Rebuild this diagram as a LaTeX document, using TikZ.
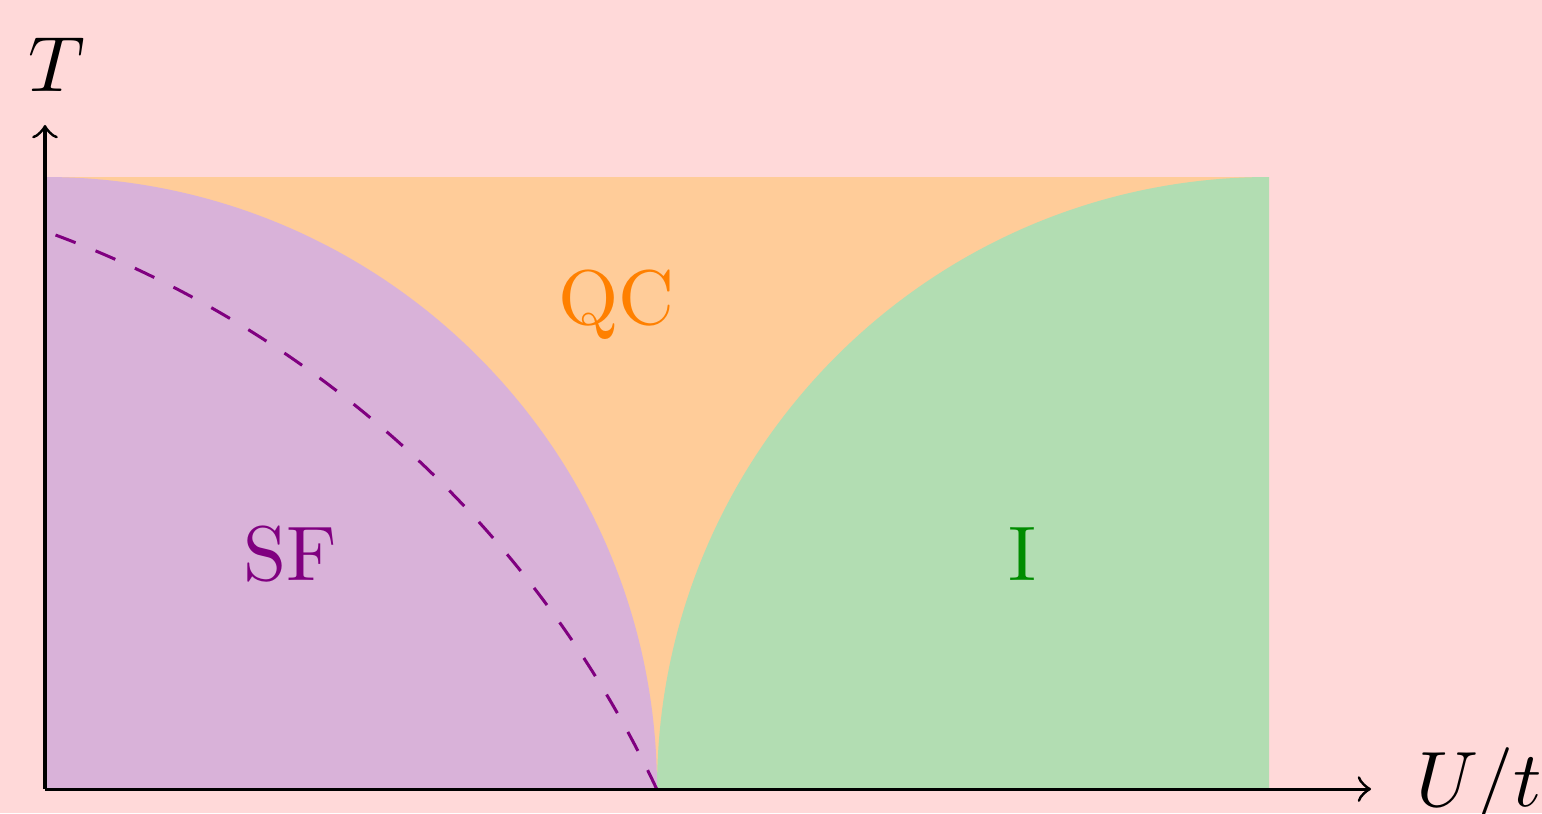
\documentclass[tikz,border=0pt]{standalone}
\usepackage{xcolor}
\definecolor{bgpink}{RGB}{255,217,217}
\definecolor{qcfill}{RGB}{255,204,153}
\definecolor{sffill}{RGB}{217,178,217}
\definecolor{ifill}{RGB}{178,221,178}
\definecolor{sftext}{RGB}{128,0,128}
\definecolor{qctext}{RGB}{255,128,0}
\definecolor{itext}{RGB}{0,140,0}
\begin{document}
\begin{tikzpicture}[
  lbl/.style={font=\fontsize{10.8}{13}\selectfont, inner sep=0pt},
  axis/.style={->, line width=0.42pt},
]
\useasboundingbox[fill=bgpink] (-0.2206,-0.1176) rectangle (7.3382,3.8676);
% regions
\fill[qcfill] (0,0) rectangle (6,3);
\fill[sffill] (0,0) -- (3,0) arc[start angle=0, end angle=90, radius=3] -- cycle;
\fill[ifill] (6,0) -- (3,0) arc[start angle=180, end angle=90, radius=3] -- cycle;
% dashed crossover line
\coordinate (dstart) at ({-1.8+5.3*cos(69.55)},{-2.25+5.3*sin(69.55)});
\draw[sftext, dashed, line width=0.42pt] (dstart) arc[start angle=69.55, end angle=25.11, radius=5.3];
% axes
\coordinate (O) at (0,0);
\coordinate (xe) at (6.5,0);
\coordinate (ye) at (0,3.255);
\draw[axis] (O) -- (xe);
\draw[axis] (O) -- (ye);
\node[lbl, anchor=base west] (Tl) at (-0.09,3.417) {$T$};
\node[lbl, anchor=base west] (Ul) at (6.715,-0.088) {$U/t$};
% phase labels
\node[lbl, text=sftext] (SF) at (1.2,1.15) {SF};
\node[lbl, text=qctext] (QC) at (2.80,2.375) {QC};
\node[lbl, text=itext] (I) at (4.79,1.15) {I};
\end{tikzpicture}
\end{document}
